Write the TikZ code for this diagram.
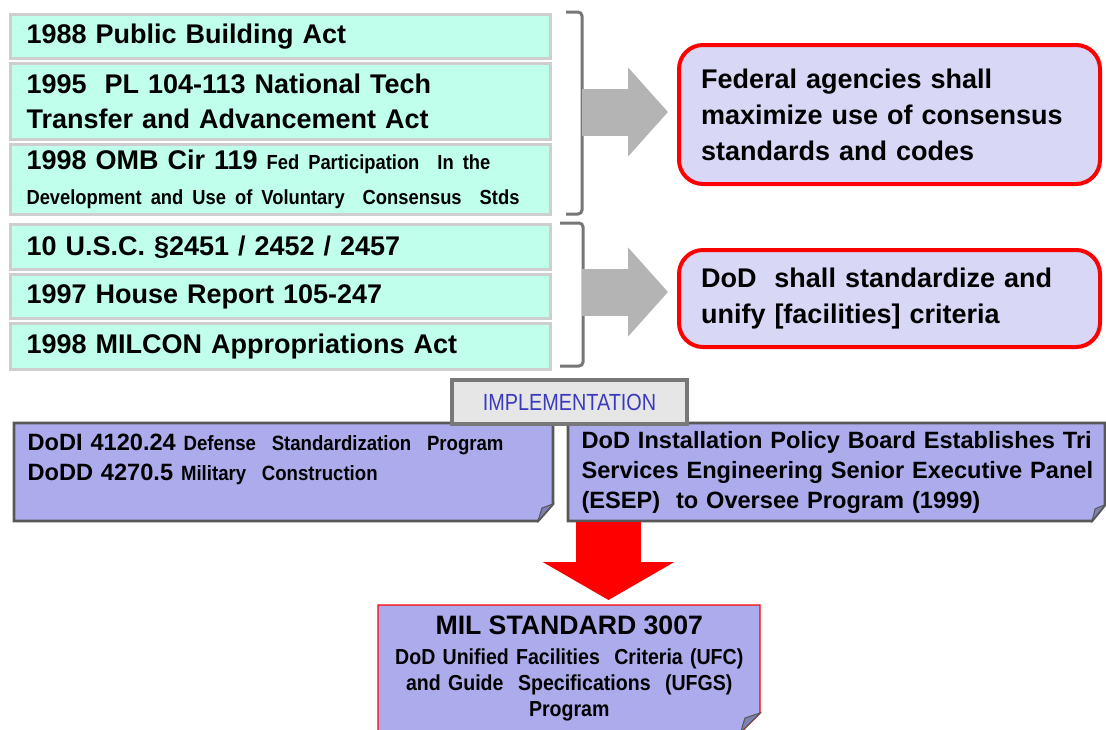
\documentclass[tikz,border=0pt]{standalone}
\usepackage{fontspec}
\setmainfont{Liberation Sans}
\newfontfamily\narrowfont[FakeStretch=0.85]{Liberation Sans}
\newfontfamily\condfont[FakeStretch=0.9]{Liberation Sans}
\usetikzlibrary{arrows.meta,calc}

\begin{document}
\begin{tikzpicture}[x=0.75pt,y=0.75pt,yscale=-1,xscale=1,
	actbox/.style={draw={rgb, 255:red, 206; green, 206; blue, 206},line width=2.25pt,fill={rgb, 255:red, 192; green, 255; blue, 236},anchor=north west,minimum width=405pt,text width=381pt,inner xsep=12pt,inner ysep=0pt,align=left,font=\bfseries\fontsize{20.25}{26.25}\selectfont},
	goalbox/.style={draw={rgb, 255:red, 255; green, 0; blue, 0},line width=3pt,rounded corners=18pt,fill={rgb, 255:red, 216; green, 216; blue, 246},anchor=north west,minimum width=315.75pt,text width=282.75pt,inner xsep=16.5pt,align=left,font=\bfseries\fontsize{20.25}{27}\selectfont},
	notebox/.style={draw={rgb, 255:red, 88; green, 88; blue, 88},line width=1.9pt,fill={rgb, 255:red, 172; green, 172; blue, 236}},
	notetext/.style={anchor=north west,minimum height=73.5pt,text width=420pt,inner xsep=10pt,align=left,font=\bfseries\fontsize{17.7}{22.5}\selectfont},
	fold/.style={draw={rgb, 255:red, 88; green, 88; blue, 88},line width=0.8pt,fill={rgb, 255:red, 128; green, 128; blue, 178}},
	brace/.style={draw={rgb, 255:red, 118; green, 118; blue, 118},line width=2.25pt,rounded corners=3pt},
	passarrow/.style={draw={rgb, 255:red, 180; green, 180; blue, 180},line width=35.25pt,-{Triangle[length=30pt,width=65.25pt]},shorten >=6.75pt},
	droparrow/.style={draw={rgb, 255:red, 255; green, 0; blue, 0},line width=48.75pt,-{Triangle[length=28.5pt,width=97.5pt]},shorten >=3.75pt}
]
	\path[use as bounding box] (0,0) rectangle (1106,729);
	
	%Shape: Rectangle (laws)
	\node[actbox,minimum height=33pt] (actA) at (9,13) {1988 Public Building Act};
	\node[actbox,minimum height=57pt] (actB) at (9,62) {1995~ PL 104-113 National Tech\\Transfer and Advancement Act};
	\node[actbox,minimum height=52.5pt] (actC) at (9,143) {1998 OMB Cir 119 {\condfont\fontsize{15.3}{22.5}\selectfont Fed Participation~ In the\\Development and Use of Voluntary~ Consensus~ Stds}};
	\node[actbox,minimum height=33.75pt] (actD) at (9,223) {10 U.S.C. §2451 / 2452 / 2457};
	\node[actbox,minimum height=33pt] (actE) at (9,273) {1997 House Report 105-247};
	\node[actbox,minimum height=34.5pt] (actF) at (9,322) {1998 MILCON Appropriations Act};
	
	%Shape: Brackets
	\draw[brace] ($(actA.north east)+(14,-1)$) -- ++(16,0) -- ($(actC.south east)+(30,-2)$) -- ++(-16,0);
	\draw[brace] ($(actD.north east)+(8,0)$) -- ++(23,0) -- ($(actF.south east)+(31,-5)$) -- ++(-23,0);
	
	%Shape: Rounded Rectangle (goals)
	\node[goalbox,minimum height=104.25pt] (fedGoal) at (677,43) {Federal agencies shall\\maximize use of consensus\\standards and codes};
	\node[goalbox,minimum height=72.75pt] (dodGoal) at (677,248) {DoD~ shall standardize and\\unify [facilities] criteria};
	
	%Block Arrows
	\coordinate (lawsOut) at (582,112);
	\coordinate (uscOut) at (582,292);
	\draw[passarrow] (lawsOut) -- (lawsOut -| fedGoal.west);
	\draw[passarrow] (uscOut) -- (uscOut -| dodGoal.west);
	
	%Shape: Folded Notes
	\draw[notebox] (14,423) -- (553,423) -- (553,504) -- (538,521) -- (14,521) -- cycle;
	\draw[fold] (538,521) .. controls (540,514) .. (542,508) .. controls (547,506) .. (553,504) -- cycle;
	\draw[notebox] (568,423) -- (1105,423) -- (1105,505) -- (1092,521) -- (568,521) -- cycle;
	\draw[fold] (1092,521) .. controls (1094,514) .. (1095,509) .. controls (1099,507) .. (1105,505) -- cycle;
	
	% Text Node
	\node[notetext] (dodDirectives) at (14,423) {DoDI 4120.24 {\condfont\fontsize{15.5}{22.5}\selectfont Defense~ Standardization~ Program}\\DoDD 4270.5 {\condfont\fontsize{15.5}{22.5}\selectfont Military~ Construction}\\\mbox{}};
	\node[notetext] (dodBoard) at (568,423) {DoD Installation Policy Board Establishes Tri\\Services Engineering Senior Executive Panel\\(ESEP)~ to Oversee Program (1999)};
	
	%Shape: Rectangle (label)
	\node[draw={rgb, 255:red, 120; green, 120; blue, 120},line width=3pt,fill={rgb, 255:red, 230; green, 230; blue, 230},anchor=north west,minimum width=176.25pt,minimum height=33pt,text={rgb, 255:red, 58; green, 58; blue, 190},font=\narrowfont\fontsize{17.5}{19}\selectfont] (implTag) at (450,378) {IMPLEMENTATION};
	
	%Red Arrow
	\coordinate (dropStart) at ($(dodBoard.south west)+(40.5,0)$);
	
	%Shape: Folded Note (standard)
	\draw[fill={rgb, 255:red, 172; green, 172; blue, 236},draw={rgb, 255:red, 255; green, 0; blue, 0},line width=1.1pt] (378,605) -- (760,605) -- (760,713) -- (741,732) -- (378,732) -- cycle;
	\draw[fold] (741,732) .. controls (743,724) .. (745,718) .. controls (751,716) .. (760,713) -- cycle;
	\node[anchor=north west,minimum width=286.5pt,minimum height=95.25pt,text width=274pt,inner xsep=6.25pt,align=center,font=\bfseries\condfont\fontsize{16.3}{19.5}\selectfont] (milStd) at (378,605) {{\normalfont\bfseries\fontsize{20}{24}\selectfont MIL STANDARD 3007}\\[3pt]DoD Unified Facilities~ Criteria (UFC)\\and Guide~ Specifications~ (UFGS)\\Program};
	
	\draw[droparrow] (dropStart) -- (dropStart |- milStd.north);
	
\end{tikzpicture}
\end{document}
